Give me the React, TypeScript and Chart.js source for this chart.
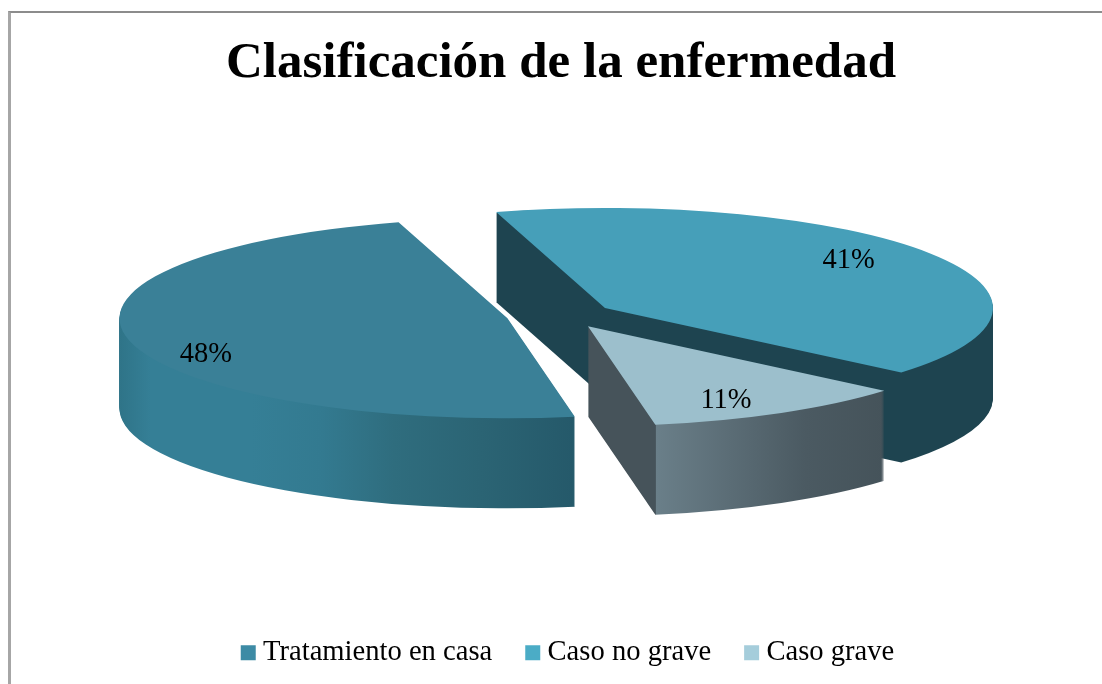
import React, { useEffect, useRef } from "react";
import { Chart, registerables } from "chart.js";

Chart.register(...registerables);

const TITLE = "Clasificación de la enfermedad";
const categories = ["Tratamiento en casa", "Caso no grave", "Caso grave"];
const values = [48.25, 40.7, 11.05];
const topColors = ["#3a8097", "#469fb9", "#9cbfcc"];
const legendColors = ["#3d8ba5", "#4bacc6", "#a5cddb"];
const explode = [0.147, 0.129, 0.129];
const wallOrder = [1, 0, 2];
const wallStops: [number, string][][] = [
  [[0, "#2f7488"], [0.04, "#357f96"], [0.17, "#357f96"], [0.26, "#337a90"], [0.353, "#2f6d7e"], [0.465, "#2b6474"], [0.586, "#25596a"]],
  [[0, "#1e4450"], [1, "#1e4450"]],
  [[0.5, "#46535a"], [0.587, "#46535a"], [0.5875, "#6a7f89"], [0.78, "#4b5a62"], [0.881, "#45535a"]],
];
const labelReach: [number, number][] = [[0.798, 1.59], [0.749, 0.876], [0.714, 0.854]];

const CANVAS_LEFT = 9;
const CANVAS_TOP = 11;
const PIE = { cx: 554, cy: 304, rx: 388, ry: 100, depth: 90 };
const SERIF = "'Liberation Serif', serif";

function basis(chart: any) {
  const a = chart.chartArea;
  const arc = chart.getDatasetMeta(0).data[0];
  const R = arc.outerRadius;
  return { ux: (a.left + a.right) / 2, uy: (a.top + a.bottom) / 2, R, sx: PIE.rx / R, sy: PIE.ry / R };
}

const pie3d = {
  id: "pie3d",
  afterLayout(chart: any) {
    chart.legend.left += 10;
    chart.legend.right += 10;
  },
  afterDatasetsUpdate(chart: any) {
    const b = basis(chart);
    chart.getDatasetMeta(0).data.forEach((arc: any, i: number) => {
      const mid = (arc.startAngle + arc.endAngle) / 2;
      arc.x = b.ux + Math.cos(mid) * explode[i] * b.R;
      arc.y = b.uy + Math.sin(mid) * explode[i] * b.R;
    });
  },
  beforeDatasetsDraw(chart: any) {
    const b = basis(chart);
    const ctx = chart.ctx;
    const arcs = chart.getDatasetMeta(0).data;
    ctx.save();
    ctx.translate(PIE.cx, PIE.cy);
    ctx.scale(b.sx, b.sy);
    ctx.translate(-b.ux, -b.uy);
    wallOrder.forEach((i) => {
      const arc = arcs[i];
      const g = ctx.createLinearGradient(arc.x - b.R, 0, arc.x + b.R, 0);
      wallStops[i].forEach(([p, c]) => g.addColorStop(p, c));
      ctx.fillStyle = g;
      for (let k = PIE.depth; k >= 1; k--) {
        const y = arc.y + k / b.sy;
        ctx.beginPath();
        ctx.moveTo(arc.x, y);
        ctx.arc(arc.x, y, b.R, arc.startAngle, arc.endAngle);
        ctx.closePath();
        ctx.fill();
      }
    });
  },
  afterDatasetsDraw(chart: any) {
    const b = basis(chart);
    const ctx = chart.ctx;
    ctx.restore();
    ctx.save();
    ctx.fillStyle = "#000";
    ctx.font = `28.5px ${SERIF}`;
    ctx.textAlign = "center";
    ctx.textBaseline = "middle";
    chart.getDatasetMeta(0).data.forEach((arc: any, i: number) => {
      const mid = (arc.startAngle + arc.endAngle) / 2;
      const px = PIE.cx + (arc.x - b.ux) * b.sx + Math.cos(mid) * labelReach[i][0] * PIE.rx;
      const py = PIE.cy + (arc.y - b.uy) * b.sy + Math.sin(mid) * labelReach[i][1] * PIE.ry;
      ctx.fillText(`${Math.round(values[i])}%`, px, py);
    });
    ctx.restore();
  },
};

export default function App() {
  const ref = useRef<HTMLCanvasElement>(null);
  useEffect(() => {
    const chart = new Chart(ref.current as HTMLCanvasElement, {
      type: "pie",
      data: {
        labels: categories,
        datasets: [
          {
            data: values,
            backgroundColor: topColors,
            borderWidth: 0,
            rotation: 170,
            clip: false,
          } as any,
        ],
      },
      options: {
        responsive: false,
        animation: false,
        devicePixelRatio: 1,
        layout: { padding: { top: 0, bottom: 7, left: 0, right: 0 } },
        plugins: {
          tooltip: { enabled: false },
          title: {
            display: true,
            text: TITLE,
            color: "#000",
            font: { family: SERIF, size: 51, weight: "bold" },
            padding: { top: 22, bottom: 20 },
          },
          legend: {
            display: true,
            position: "bottom",
            onClick: () => {},
            labels: {
              font: { family: SERIF, size: 28.6 },
              color: "#000",
              boxWidth: 1,
              boxHeight: 1,
              padding: 40,
              generateLabels: () =>
                categories.map((text, i) => ({
                  text,
                  index: i,
                  fillStyle: legendColors[i],
                  strokeStyle: legendColors[i],
                  lineWidth: 14,
                  fontColor: "#000",
                  hidden: false,
                })),
            },
          },
        },
      } as any,
      plugins: [pie3d],
    });
    return () => chart.destroy();
  }, []);
  return (
    <div style={{ position: "fixed", left: 0, top: 0, width: 1102, height: 684, overflow: "hidden", background: "#fff" }}>
      <div
        style={{
          position: "absolute",
          left: 8,
          top: 11,
          width: 1200,
          height: 800,
          borderLeft: "3px solid #a6a6a6",
          borderTop: "2px solid #8c8c8c",
        }}
      />
      <canvas
        ref={ref}
        width={1104}
        height={673}
        style={{ position: "absolute", left: CANVAS_LEFT, top: CANVAS_TOP, width: 1104, height: 673 }}
      />
    </div>
  );
}
